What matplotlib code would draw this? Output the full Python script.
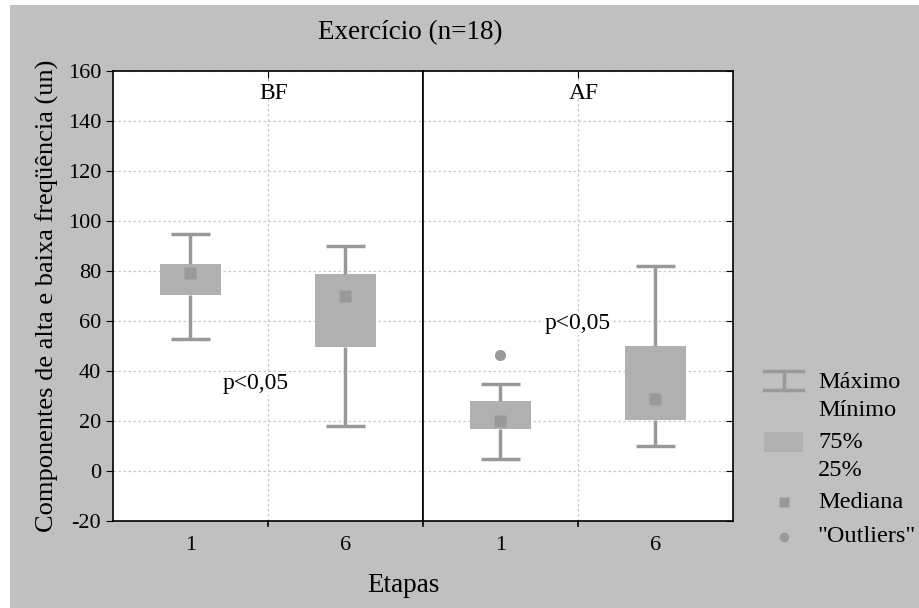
import matplotlib.pyplot as plt
from matplotlib.patches import Rectangle

# dados
paineis = ['BF', 'AF']
etapas = ['1', '6']
maximo = [[95, 90], [35, 82]]
q75 = [[83, 79], [28, 50]]
mediana = [[79.3, 70], [20, 28.7]]
q25 = [[70.5, 49.5], [17, 20.5]]
minimo = [[53, 18], [5, 10]]
outliers = [[[], []], [[46.5], []]]
p_textos = ['p<0,05', 'p<0,05']
p_pos = [(0.92, 35), (1.0, 59)]

plt.rcParams['font.family'] = ['Liberation Serif', 'DejaVu Serif']
plt.rcParams['axes.unicode_minus'] = False
cor_box = '#b0b0b0'
cor_linha = '#999999'
cor_fundo = '#c0c0c0'

W, H = 920, 608
fig = plt.figure(figsize=(W / 100, H / 100), dpi=100, facecolor='white')
fig.patches.append(Rectangle((10 / W, 0), 1, 1 - 5 / H, transform=fig.transFigure,
                             facecolor=cor_fundo, edgecolor='none', zorder=-10))

x_pos = [0.5, 1.5]
axes = []
for i in range(2):
    ax = fig.add_axes([(113 + 310 * i) / W, (H - 521) / H, 310 / W, 450 / H])
    axes.append(ax)
    ax.set_xlim(0, 2)
    ax.set_ylim(-20, 160)
    ax.set_yticks(range(-20, 161, 20))
    ax.set_xticks([1, 2] if i == 0 else [1])
    ax.set_xticklabels([])
    ax.grid(True, color='#c8c8c8', linestyle=(0, (2, 2)), linewidth=0.9)
    ax.set_axisbelow(True)
    for s in ax.spines.values():
        s.set_linewidth(1.2)
    ax.tick_params(axis='both', direction='in', length=5,
                   top=True, right=(i == 1), left=(i == 0), labelsize=16)
    ax.tick_params(axis='x', which='both', bottom=False, top=True)
    if i == 1:
        ax.set_yticklabels([])
    else:
        ax.tick_params(axis='y', direction='out')
    for j, xp in enumerate(x_pos):
        ax.text(xp, -26, etapas[j], ha='center', va='top', fontsize=16)
        # caixa
        ax.bar(xp, q75[i][j] - q25[i][j], bottom=q25[i][j], width=0.39,
               color=cor_box, edgecolor='none', zorder=2)
        # bigodes
        ax.vlines(xp, q75[i][j], maximo[i][j], color=cor_linha, lw=2.5, zorder=2)
        ax.vlines(xp, minimo[i][j], q25[i][j], color=cor_linha, lw=2.5, zorder=2)
        ax.hlines([maximo[i][j], minimo[i][j]], xp - 0.125, xp + 0.125,
                  color=cor_linha, lw=2.5, zorder=2)
        ax.plot(xp, mediana[i][j], 's', color=cor_linha, ms=8, mec='none', zorder=3)
        if outliers[i][j]:
            ax.plot([xp] * len(outliers[i][j]), outliers[i][j], 'o', color=cor_linha,
                    ms=8, mec='none', zorder=3)
    ax.text(1.04, 148.8, paineis[i], ha='center', va='baseline', fontsize=17)
    ax.text(p_pos[i][0], p_pos[i][1], p_textos[i], ha='center', va='center', fontsize=17,
            bbox=dict(facecolor='white', edgecolor='none', pad=1))
    # marcas de escala do eixo x para fora
    for xt in ax.get_xticks():
        ax.plot([xt, xt], [-20, -21.8], color='black', lw=1.2, clip_on=False)

axes[0].set_ylabel('Componentes de alta e baixa freqüência (un)', fontsize=19, labelpad=6)
fig.text(410 / W, 1 - 33 / H, 'Exercício (n=18)', ha='center', va='center', fontsize=19.5)
fig.text(403 / W, 1 - 585 / H, 'Etapas', ha='center', va='center', fontsize=19.5)

# legenda
lg = fig.add_axes([0, 0, 1, 1], facecolor='none')
lg.set_xlim(0, W)
lg.set_ylim(H, 0)
lg.axis('off')
lg.plot([764, 803], [371, 371], color=cor_linha, lw=2.5)
lg.plot([764, 803], [390, 390], color=cor_linha, lw=2.5)
lg.plot([784, 784], [371, 390], color=cor_linha, lw=2.5)
lg.add_patch(Rectangle((764, 432), 39, 20, facecolor=cor_box, edgecolor='none'))
lg.plot(784, 502, 's', color=cor_linha, ms=7, mec='none')
lg.plot(784, 537, 'o', color=cor_linha, ms=7, mec='none')
for yy, t in [(383, 'Máximo'), (410, 'Mínimo'), (443, '75%'), (470, '25%'),
              (502, 'Mediana'), (537, '"Outliers"')]:
    lg.text(818, yy, t, ha='left', va='center', fontsize=17.5)

fig.savefig('out.png', dpi=100, facecolor=fig.get_facecolor())
